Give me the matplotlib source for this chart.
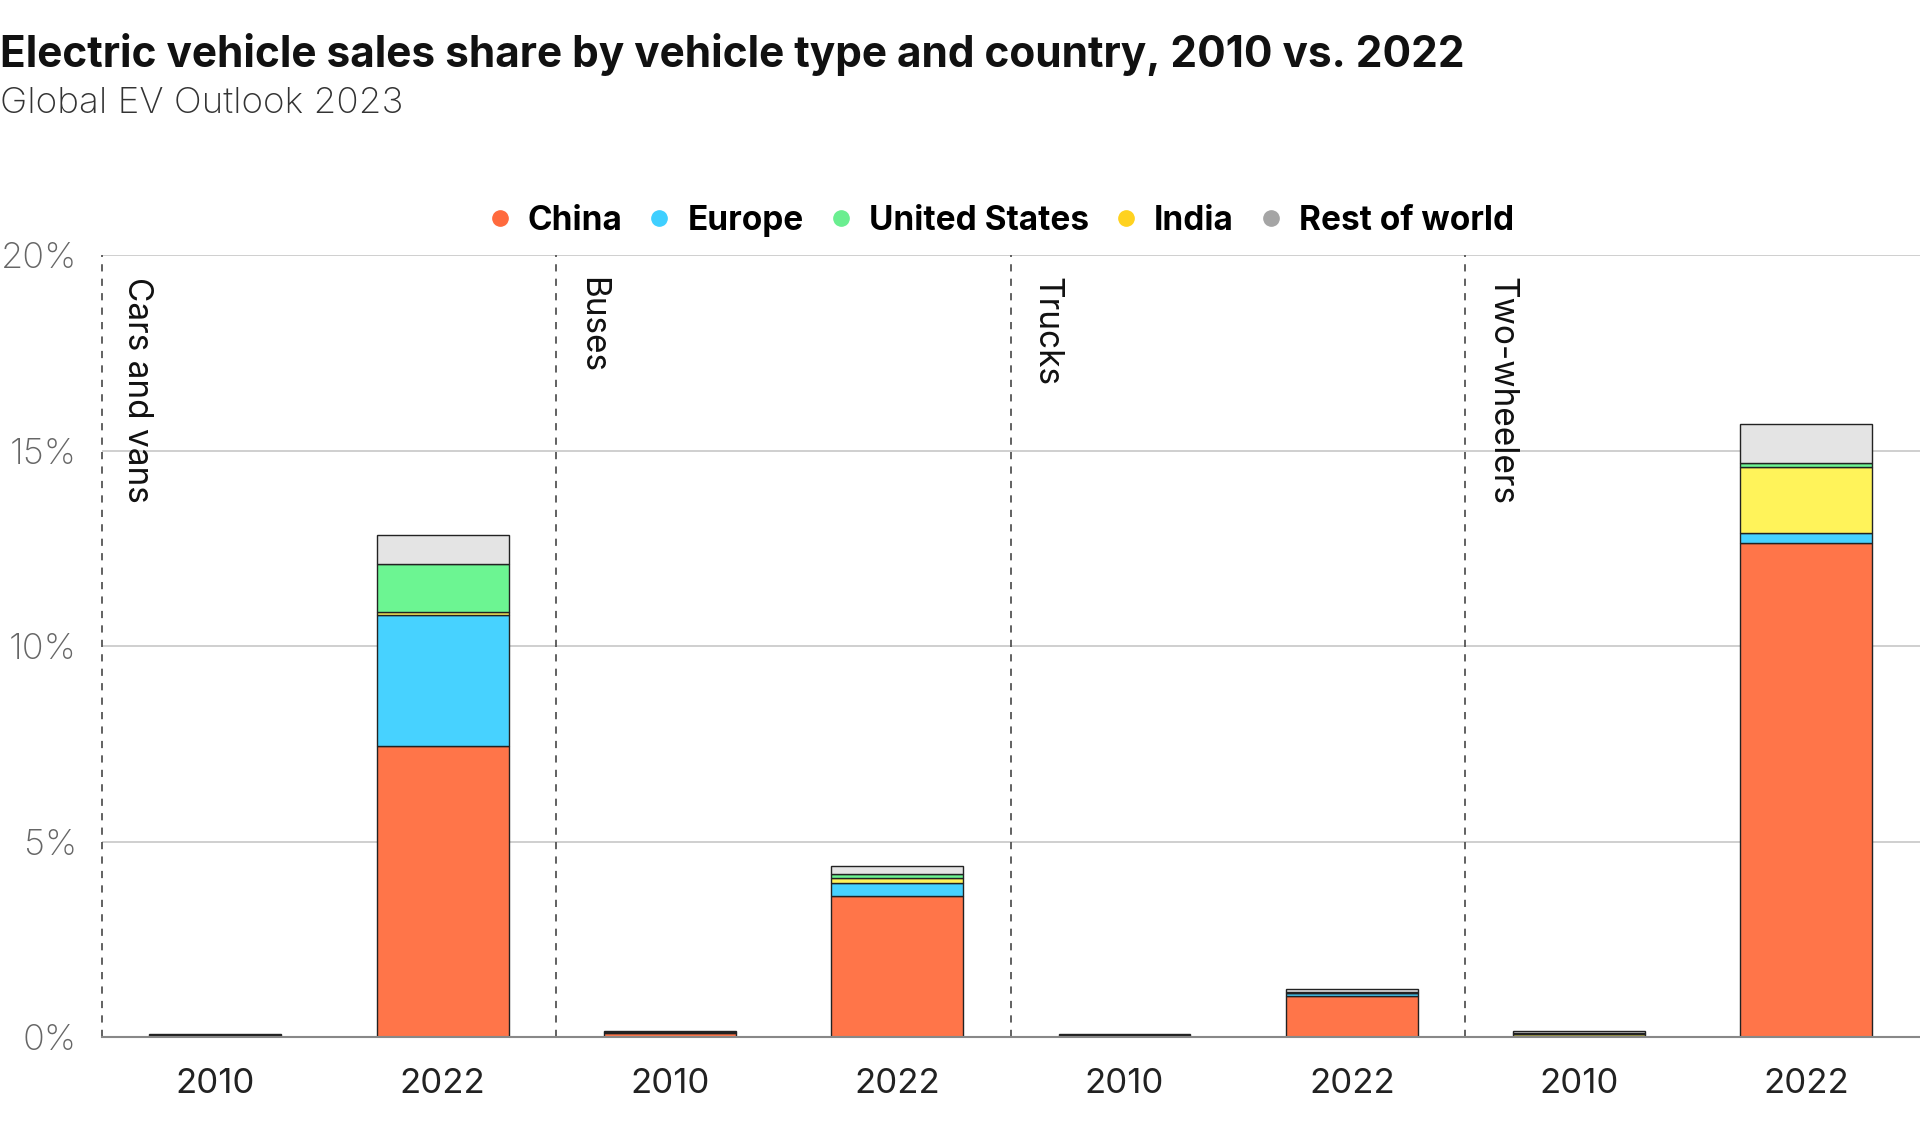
import matplotlib
matplotlib.use("Agg")
import matplotlib.pyplot as plt
from matplotlib.lines import Line2D
import numpy as np

plt.rcParams['font.family'] = ['Inter', 'DejaVu Sans']

# categories and years
vehicle_types = ['Cars and vans', 'Buses', 'Trucks', 'Two-wheelers']
years = ['2010', '2022']
bar_labels = [y for v in vehicle_types for y in years]

# sales share (%) per region, one value per bar (type x year)
china = [0.01, 7.44, 0.10, 3.61, 0.02, 1.06, 0.01, 12.63]
europe = [0.02, 3.36, 0.02, 0.32, 0.01, 0.06, 0.01, 0.26]
india = [0.00, 0.07, 0.00, 0.13, 0.00, 0.00, 0.07, 1.68]
united_states = [0.03, 1.24, 0.01, 0.12, 0.02, 0.04, 0.01, 0.11]
rest_of_world = [0.02, 0.72, 0.03, 0.19, 0.02, 0.08, 0.06, 1.00]

# stacking order is China, Europe, India, US, Rest of world
series = [
    ('China', china, '#ff7549', '#ff6a3d'),
    ('Europe', europe, '#47d2ff', '#3fcfff'),
    ('India', india, '#fff35a', '#ffd21f'),
    ('United States', united_states, '#6cf592', '#6aee90'),
    ('Rest of world', rest_of_world, '#e4e4e4', '#a5a5a5'),
]
legend_order = ['China', 'Europe', 'United States', 'India', 'Rest of world']

fig = plt.figure(figsize=(19.2, 11.45), dpi=100)
ax = fig.add_axes([0.053, 0.0943, 0.947, 0.683])

x = np.arange(len(bar_labels))
bottom = np.zeros(len(bar_labels))
for name, vals, col, _ in series:
    vals = np.array(vals)
    ax.bar(x, vals, width=0.58, bottom=bottom, color=col,
           edgecolor='#222222', linewidth=1.0, zorder=3)
    bottom += vals

ax.set_xlim(-0.5, len(bar_labels) - 0.5)
ax.set_ylim(0, 20)
ax.set_yticks([0, 5, 10, 15, 20])
ax.set_yticklabels([f'{v}%' for v in [0, 5, 10, 15, 20]])
ax.set_xticks(x)
ax.set_xticklabels(bar_labels)

ax.grid(axis='y', color='#cccccc', linewidth=1.3, zorder=0)
ax.grid(axis='x', visible=False)
for s in ['top', 'right', 'left']:
    ax.spines[s].set_visible(False)
ax.spines['bottom'].set_color('#888888')
ax.spines['bottom'].set_linewidth(1.5)
ax.spines['bottom'].set_zorder(4)

ax.tick_params(axis='y', length=0, pad=18, labelsize=26, labelcolor='#666666')
ax.tick_params(axis='x', length=0, pad=22, labelsize=25, labelcolor='#222222')
for lab in ax.get_yticklabels():
    lab.set_fontweight('light')

# group dividers and labels
for i, name in enumerate(vehicle_types):
    div = 2 * i - 0.5
    ax.plot([div, div], [0, 20], color='#555555', linestyle=(0, (4, 4)),
            linewidth=1.3, zorder=2, clip_on=False)
    ax.annotate(name, xy=(div, 20), xytext=(14, -16), textcoords='offset points',
                rotation=270, ha='left', va='top', fontsize=24, color='#111111')

# legend
handles = []
for name in legend_order:
    mcol = [s[3] for s in series if s[0] == name][0]
    handles.append(Line2D([0], [0], marker='o', linestyle='none',
                          markerfacecolor=mcol, markeredgecolor=mcol, markersize=11))
fig.legend(handles, legend_order, loc='center', bbox_to_anchor=(0.52, 0.807),
           ncol=5, frameon=False, handlelength=1.0, handletextpad=0.35,
           columnspacing=0.6, prop={'size': 24, 'weight': 'bold'})

fig.text(0.0, 0.952, 'Electric vehicle sales share by vehicle type and country, 2010 vs. 2022',
         fontsize=30.5, fontweight='bold', ha='left', va='center', color='#111111')
fig.text(0.0, 0.91, 'Global EV Outlook 2023', fontsize=26.5, ha='left', va='center',
         color='#333333', fontweight='light')

fig.savefig('out.png', dpi=100)
